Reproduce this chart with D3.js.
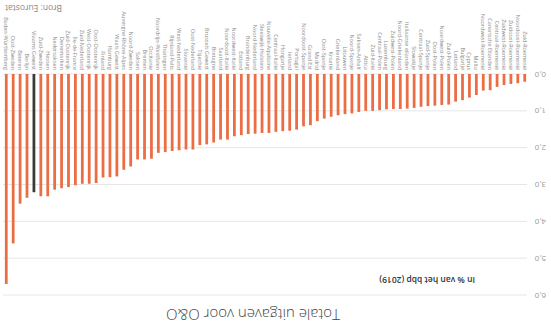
<!DOCTYPE html>
<html>
<head>
<meta charset="utf-8">
<script src="https://cdn.jsdelivr.net/npm/d3@7"></script>
<style>
  body { margin: 0; background: #fff; }
  svg { display: block; font-family: "Open Sans", sans-serif; }
  .grid line { stroke: #e6e6e6; stroke-width: 1; }
  .tick-label { fill: #9a9a9a; font-size: 8px; }
  .bar-label { fill: #8a8a8a; font-size: 5.5px; }
</style>
</head>
<body>
<div class="container"></div>
<script>
var width = 551,
    height = 325;

// regions, sorted as in the source (highest first)
var regions = [
  "Baden-Württemberg", "Oost-Zweden", "Beieren", "Berlijn", "Vlaams Gewest",
  "Zuid-Zweden", "Hessen", "Nedersaksen", "Denemarken", "Zuid-Oostenrijk",
  "Île-de-France", "Zuid-Nederland", "West-Oostenrijk", "Oost-Oostenrijk", "Finland",
  "Hamburg", "Waals Gewest", "Auvergne-Rhône-Alpes", "Noord-Zweden", "Saksen",
  "Bremen", "Occitanie", "Noordrijn-Westfalen", "Thüringen", "Rijnland-Palts",
  "West-Nederland", "Slovenië", "Oost-Nederland", "Tsjechië", "Brussels Gewest",
  "Bretagne", "Saarland", "Noordoost-Italië", "Noordwest-Italië", "Estland",
  "Brandenburg", "Noord-Nederland", "Sleeswijk-Holstein", "Nouvelle-Aquitaine", "Centraal-Italië",
  "Hongarije", "Ierland", "Portugal", "Noordoost-Spanje", "Grand Est",
  "Madrid", "Oost-Spanje", "Kroatië", "Griekenland", "Litouwen",
  "Noord-Spanje", "Saksen-Anhalt", "Attica", "Zuid-Italië", "Centraal-Polen",
  "Luxemburg", "Zuidwest-Polen", "Noord-Griekenland", "Italiaanse eilanden", "Slowakije",
  "Centraal-Spanje", "Zuid-Spanje", "Oost-Polen", "Noordwest-Polen", "Zuid-Polen",
  "Letland", "Bulgarije", "Cyprus", "Malta", "Noordwest-Roemenië",
  "Canarische Eilanden", "Centraal-Roemenië", "Zuidwest-Roemenië", "Zuidoost-Roemenië", "Noordoost-Roemenië",
  "Zuid-Roemenië"
];

// R&D spending, % of GDP (2019)
var values = [
  5.70, 4.60, 3.52, 3.36, 3.21,
  3.32, 3.32, 3.14, 3.10, 3.07,
  3.02, 2.98, 2.98, 2.96, 2.81,
  2.80, 2.78, 2.60, 2.51, 2.32,
  2.32, 2.30, 2.14, 2.12, 2.09,
  2.07, 2.05, 2.05, 1.93, 1.91,
  1.86, 1.78, 1.78, 1.69, 1.66,
  1.63, 1.62, 1.60, 1.60, 1.57,
  1.55, 1.54, 1.51, 1.42, 1.39,
  1.28, 1.21, 1.16, 1.12, 1.09,
  1.07, 1.03, 1.00, 1.00, 0.98,
  0.96, 0.95, 0.95, 0.94, 0.92,
  0.89, 0.87, 0.86, 0.84, 0.83,
  0.75, 0.71, 0.64, 0.57, 0.45,
  0.44, 0.35, 0.30, 0.27, 0.25,
  0.21
];

var highlight = "Vlaams Gewest";
var yTicks = [0, 1, 2, 3, 4, 5, 6];
var tickLabels = ["0,0", "1,0", "2,0", "3,0", "4,0", "5,0", "6,0"];

var data = regions.map(function(r, i) { return {region: r, value: values[i]}; }).reverse();

var svg = d3.select(".container").append("svg")
    .attr("width", width)
    .attr("height", height);

svg.append("rect")
    .attr("width", width)
    .attr("height", height)
    .attr("fill", "#fff");

// the picture is shown upside down, so draw it normally and turn it round
var g = svg.append("g")
    .attr("transform", "rotate(180," + width / 2 + "," + height / 2 + ")");

var x = d3.scaleBand()
    .domain(data.map(function(d) { return d.region; }))
    .range([23.5, 547.5])
    .paddingInner(0.6)
    .paddingOuter(0.2);

var y = d3.scaleLinear()
    .domain([0, 6])
    .range([251, 30]);

// gridlines
g.append("g")
    .attr("class", "grid")
  .selectAll("line")
    .data(yTicks)
    .enter().append("line")
    .attr("x1", 24)
    .attr("x2", 548)
    .attr("y1", function(d) { return y(d); })
    .attr("y2", function(d) { return y(d); });

g.selectAll(".tick-label")
    .data(yTicks)
    .enter().append("text")
    .attr("class", "tick-label")
    .attr("x", 5)
    .attr("y", function(d) { return y(d); })
    .attr("dy", "0.3em")
    .text(function(d, i) { return tickLabels[i]; });

// bars
g.selectAll(".bar")
    .data(data)
    .enter().append("rect")
    .attr("class", "bar")
    .attr("x", function(d) { return x(d.region); })
    .attr("width", x.bandwidth())
    .attr("y", function(d) { return y(d.value); })
    .attr("height", function(d) { return y(0) - y(d.value); })
    .attr("fill", function(d) { return d.region === highlight ? "#3b3b3b" : "#ea6d44"; });

g.selectAll(".bar-label")
    .data(data)
    .enter().append("text")
    .attr("class", "bar-label")
    .attr("text-anchor", "end")
    .attr("transform", function(d) {
      return "translate(" + (x(d.region) + x.bandwidth() / 2 + 2) + ",255) rotate(-90)";
    })
    .text(function(d) { return d.region; });

// titles
g.append("text")
    .attr("x", 298)
    .attr("y", 16.5)
    .attr("text-anchor", "middle")
    .attr("fill", "#444")
    .attr("font-size", "15px")
    .attr("font-weight", 300)
    .text("Totale uitgaven voor O&O");

g.append("text")
    .attr("x", 76)
    .attr("y", 48)
    .attr("fill", "#333")
    .attr("font-size", "8.5px")
    .attr("font-weight", 600)
    .text("In % van het bbp (2019)");

g.append("text")
    .attr("x", 546)
    .attr("y", 320)
    .attr("text-anchor", "end")
    .attr("fill", "#888")
    .attr("font-size", "8.5px")
    .text("Bron: Eurostat");
</script>
</body>
</html>
